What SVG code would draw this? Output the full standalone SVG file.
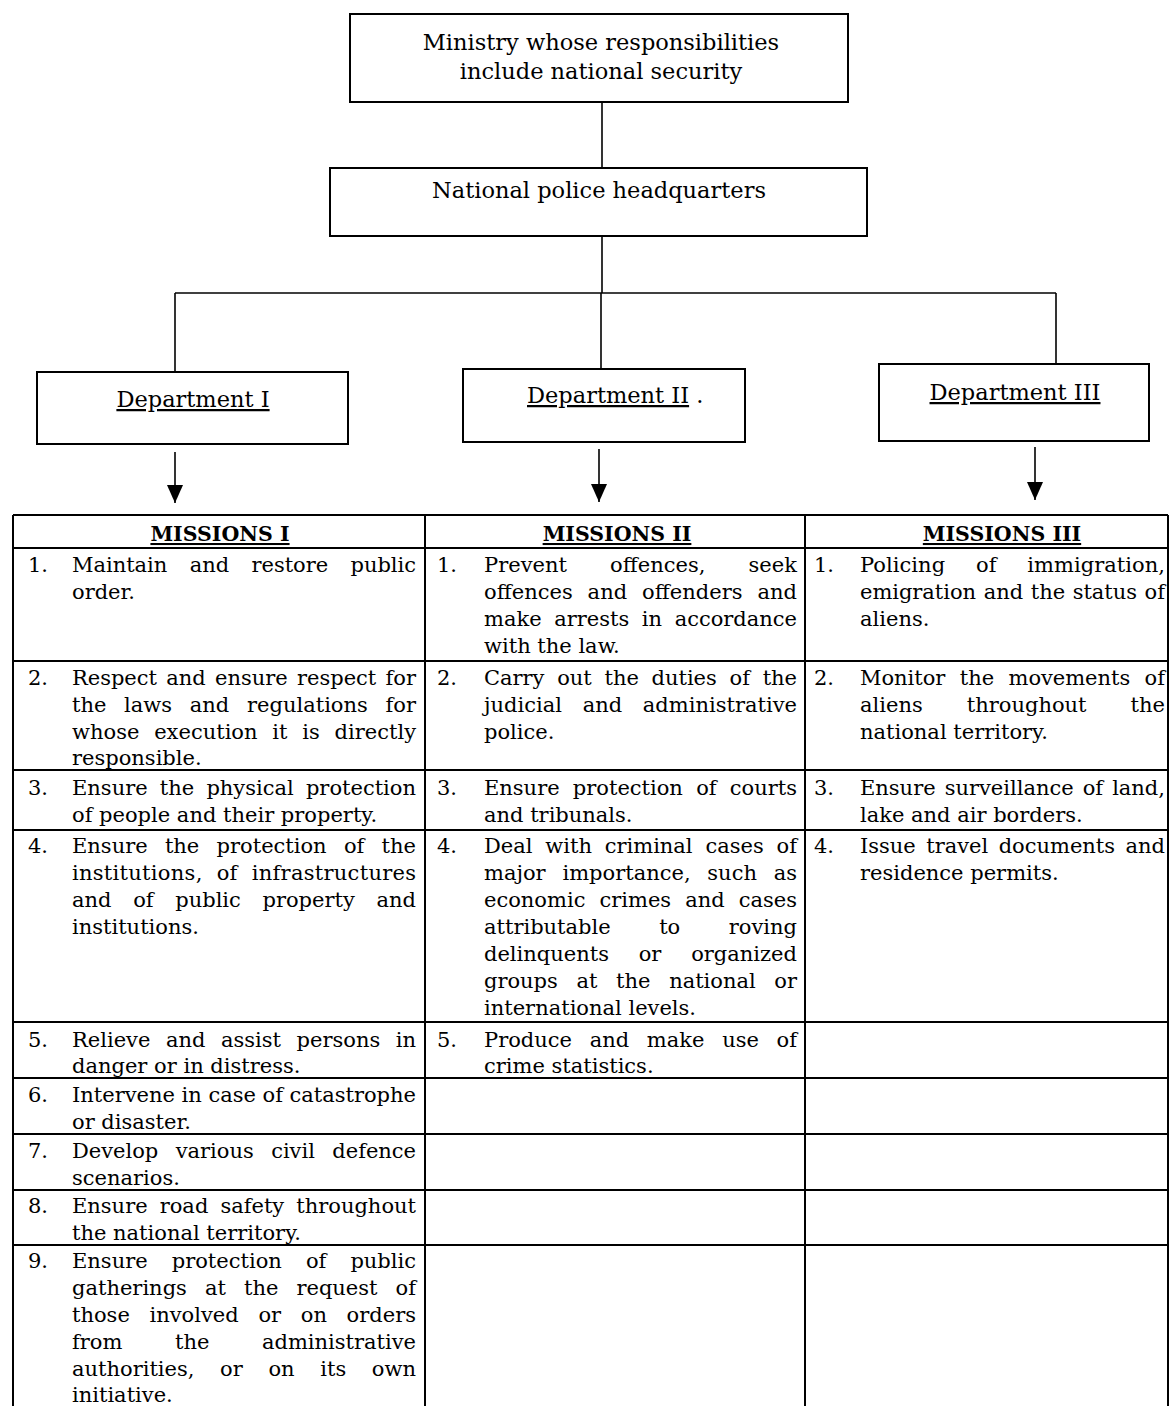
<svg xmlns="http://www.w3.org/2000/svg" width="1172" height="1406" viewBox="0 0 1172 1406">
<defs>
<style>
.box{fill:#fff;stroke:#000;stroke-width:2}
.conn{stroke:#000;stroke-width:1.6;fill:none}
.grid{stroke:#000;stroke-width:2;fill:none}
.t{font-family:"DejaVu Serif","Liberation Serif",serif;fill:#000}
.big{font-size:22.5px}
.hd{font-size:20.5px;font-weight:bold;text-decoration:underline}
.c{font-size:21px}
.mid{text-anchor:middle}
.ul{text-decoration:underline}
</style>
<marker id="arr" markerUnits="userSpaceOnUse" markerWidth="18" markerHeight="16" refX="18" refY="8" orient="auto">
<path d="M0,0 L18,8 L0,16 z" fill="#000"/>
</marker>
</defs>
<rect width="1172" height="1406" fill="#fff"/>

<g id="connectors">
<line class="conn" x1="602" y1="102" x2="602" y2="168"/>
<line class="conn" x1="602" y1="236" x2="602" y2="293"/>
<line class="conn" x1="175" y1="293" x2="1056" y2="293"/>
<line class="conn" x1="175" y1="293" x2="175" y2="372"/>
<line class="conn" x1="601" y1="293" x2="601" y2="368"/>
<line class="conn" x1="1056" y1="293" x2="1056" y2="363"/>
<line class="conn" x1="175" y1="452" x2="175" y2="503" marker-end="url(#arr)"/>
<line class="conn" x1="599" y1="449" x2="599" y2="502" marker-end="url(#arr)"/>
<line class="conn" x1="1035" y1="447" x2="1035" y2="500" marker-end="url(#arr)"/>
</g>

<g id="ministry">
<rect class="box" x="350" y="14" width="498" height="88"/>
<text class="t big mid" x="601" y="50">Ministry whose responsibilities</text>
<text class="t big mid" x="601" y="79">include national security</text>
</g>

<g id="hq">
<rect class="box" x="330" y="168" width="537" height="68"/>
<text class="t big mid" x="599" y="198">National police headquarters</text>
</g>

<g id="dept1">
<rect class="box" x="37" y="372" width="311" height="72"/>
<text class="t big mid ul" x="193" y="407">Department I</text>
</g>
<g id="dept2">
<rect class="box" x="463" y="369" width="282" height="73"/>
<text class="t big" x="527" y="403"><tspan class="ul">Department II</tspan> .</text>
</g>
<g id="dept3">
<rect class="box" x="879" y="364" width="270" height="77"/>
<text class="t big mid ul" x="1015" y="400">Department III</text>
</g>

<g id="table-grid">
<line class="grid" x1="13" y1="515" x2="1168" y2="515"/>
<line class="grid" x1="13" y1="548" x2="1168" y2="548"/>
<line class="grid" x1="13" y1="661" x2="1168" y2="661"/>
<line class="grid" x1="13" y1="770" x2="1168" y2="770"/>
<line class="grid" x1="13" y1="830" x2="1168" y2="830"/>
<line class="grid" x1="13" y1="1022" x2="1168" y2="1022"/>
<line class="grid" x1="13" y1="1078" x2="1168" y2="1078"/>
<line class="grid" x1="13" y1="1134" x2="1168" y2="1134"/>
<line class="grid" x1="13" y1="1190" x2="1168" y2="1190"/>
<line class="grid" x1="13" y1="1245" x2="1168" y2="1245"/>
<line class="grid" x1="13" y1="515" x2="13" y2="1406"/>
<line class="grid" x1="425" y1="515" x2="425" y2="1406"/>
<line class="grid" x1="805" y1="515" x2="805" y2="1406"/>
<line class="grid" x1="1168" y1="515" x2="1168" y2="1406"/>
</g>

<g id="missions1">
<text class="t hd mid" x="220" y="541">MISSIONS I</text>
<text class="t c" x="28" y="572">1.</text>
<text class="t c" x="72" y="572" style="word-spacing:15.7px" textLength="344" lengthAdjust="spacing">Maintain and restore public</text>
<text class="t c" x="72" y="599">order.</text>
<text class="t c" x="28" y="685">2.</text>
<text class="t c" x="72" y="685" style="word-spacing:2.8px" textLength="344" lengthAdjust="spacing">Respect and ensure respect for</text>
<text class="t c" x="72" y="712" style="word-spacing:11px" textLength="344" lengthAdjust="spacing">the laws and regulations for</text>
<text class="t c" x="72" y="739" style="word-spacing:8.1px" textLength="344" lengthAdjust="spacing">whose execution it is directly</text>
<text class="t c" x="72" y="765">responsible.</text>
<text class="t c" x="28" y="795">3.</text>
<text class="t c" x="72" y="795" style="word-spacing:5.5px" textLength="344" lengthAdjust="spacing">Ensure the physical protection</text>
<text class="t c" x="72" y="822">of people and their property.</text>
<text class="t c" x="28" y="853">4.</text>
<text class="t c" x="72" y="853" style="word-spacing:10.6px" textLength="344" lengthAdjust="spacing">Ensure the protection of the</text>
<text class="t c" x="72" y="880" style="word-spacing:7.1px" textLength="344" lengthAdjust="spacing">institutions, of infrastructures</text>
<text class="t c" x="72" y="907" style="word-spacing:15px" textLength="344" lengthAdjust="spacing">and of public property and</text>
<text class="t c" x="72" y="934">institutions.</text>
<text class="t c" x="28" y="1047">5.</text>
<text class="t c" x="72" y="1047" style="word-spacing:8.9px" textLength="344" lengthAdjust="spacing">Relieve and assist persons in</text>
<text class="t c" x="72" y="1073">danger or in distress.</text>
<text class="t c" x="28" y="1102">6.</text>
<text class="t c" x="72" y="1102" textLength="344" lengthAdjust="spacing">Intervene in case of catastrophe</text>
<text class="t c" x="72" y="1129">or disaster.</text>
<text class="t c" x="28" y="1158">7.</text>
<text class="t c" x="72" y="1158" style="word-spacing:10.9px" textLength="344" lengthAdjust="spacing">Develop various civil defence</text>
<text class="t c" x="72" y="1185">scenarios.</text>
<text class="t c" x="28" y="1213">8.</text>
<text class="t c" x="72" y="1213" style="word-spacing:5.4px" textLength="344" lengthAdjust="spacing">Ensure road safety throughout</text>
<text class="t c" x="72" y="1240">the national territory.</text>
<text class="t c" x="28" y="1268">9.</text>
<text class="t c" x="72" y="1268" style="word-spacing:17.4px" textLength="344" lengthAdjust="spacing">Ensure protection of public</text>
<text class="t c" x="72" y="1295" style="word-spacing:11.4px" textLength="344" lengthAdjust="spacing">gatherings at the request of</text>
<text class="t c" x="72" y="1322" style="word-spacing:13px" textLength="344" lengthAdjust="spacing">those involved or on orders</text>
<text class="t c" x="72" y="1349" style="word-spacing:45.9px" textLength="344" lengthAdjust="spacing">from the administrative</text>
<text class="t c" x="72" y="1376" style="word-spacing:19px" textLength="344" lengthAdjust="spacing">authorities, or on its own</text>
<text class="t c" x="72" y="1402">initiative.</text>
</g>

<g id="missions2">
<text class="t hd mid" x="617" y="541">MISSIONS II</text>
<text class="t c" x="437" y="572">1.</text>
<text class="t c" x="484" y="572" style="word-spacing:36.3px" textLength="313" lengthAdjust="spacing">Prevent offences, seek</text>
<text class="t c" x="484" y="599" style="word-spacing:8px" textLength="313" lengthAdjust="spacing">offences and offenders and</text>
<text class="t c" x="484" y="626" style="word-spacing:6px" textLength="313" lengthAdjust="spacing">make arrests in accordance</text>
<text class="t c" x="484" y="653">with the law.</text>
<text class="t c" x="437" y="685">2.</text>
<text class="t c" x="484" y="685" style="word-spacing:6.1px" textLength="313" lengthAdjust="spacing">Carry out the duties of the</text>
<text class="t c" x="484" y="712" style="word-spacing:14px" textLength="313" lengthAdjust="spacing">judicial and administrative</text>
<text class="t c" x="484" y="739">police.</text>
<text class="t c" x="437" y="795">3.</text>
<text class="t c" x="484" y="795" style="word-spacing:6.6px" textLength="313" lengthAdjust="spacing">Ensure protection of courts</text>
<text class="t c" x="484" y="822">and tribunals.</text>
<text class="t c" x="437" y="853">4.</text>
<text class="t c" x="484" y="853" style="word-spacing:6.3px" textLength="313" lengthAdjust="spacing">Deal with criminal cases of</text>
<text class="t c" x="484" y="880" style="word-spacing:10.1px" textLength="313" lengthAdjust="spacing">major importance, such as</text>
<text class="t c" x="484" y="907" style="word-spacing:7.4px" textLength="313" lengthAdjust="spacing">economic crimes and cases</text>
<text class="t c" x="484" y="934" style="word-spacing:41.9px" textLength="313" lengthAdjust="spacing">attributable to roving</text>
<text class="t c" x="484" y="961" style="word-spacing:23.1px" textLength="313" lengthAdjust="spacing">delinquents or organized</text>
<text class="t c" x="484" y="988" style="word-spacing:12px" textLength="313" lengthAdjust="spacing">groups at the national or</text>
<text class="t c" x="484" y="1015">international levels.</text>
<text class="t c" x="437" y="1047">5.</text>
<text class="t c" x="484" y="1047" style="word-spacing:11px" textLength="313" lengthAdjust="spacing">Produce and make use of</text>
<text class="t c" x="484" y="1073">crime statistics.</text>
</g>

<g id="missions3">
<text class="t hd mid" x="1002" y="541">MISSIONS III</text>
<text class="t c" x="814" y="572">1.</text>
<text class="t c" x="860" y="572" style="word-spacing:24.1px" textLength="305" lengthAdjust="spacing">Policing of immigration,</text>
<text class="t c" x="860" y="599" style="word-spacing:1px" textLength="305" lengthAdjust="spacing">emigration and the status of</text>
<text class="t c" x="860" y="626">aliens.</text>
<text class="t c" x="814" y="685">2.</text>
<text class="t c" x="860" y="685" style="word-spacing:7.8px" textLength="305" lengthAdjust="spacing">Monitor the movements of</text>
<text class="t c" x="860" y="712" style="word-spacing:37.4px" textLength="305" lengthAdjust="spacing">aliens throughout the</text>
<text class="t c" x="860" y="739">national territory.</text>
<text class="t c" x="814" y="795">3.</text>
<text class="t c" x="860" y="795" style="word-spacing:2.4px" textLength="305" lengthAdjust="spacing">Ensure surveillance of land,</text>
<text class="t c" x="860" y="822">lake and air borders.</text>
<text class="t c" x="814" y="853">4.</text>
<text class="t c" x="860" y="853" style="word-spacing:3.9px" textLength="305" lengthAdjust="spacing">Issue travel documents and</text>
<text class="t c" x="860" y="880">residence permits.</text>
</g>
</svg>
